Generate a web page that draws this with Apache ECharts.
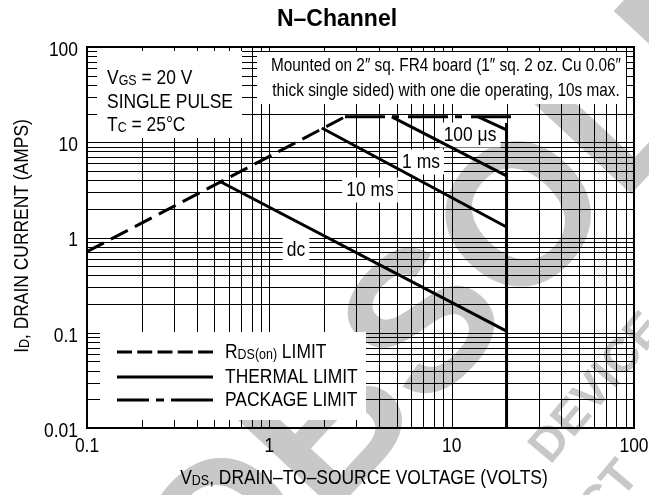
<!DOCTYPE html>
<html>
<head>
<meta charset="utf-8">
<script src="https://cdn.jsdelivr.net/npm/echarts@6/dist/echarts.min.js"></script>
<style>
html, body { margin: 0; padding: 0; background: #fff; }
#chart { width: 649px; height: 495px; }
</style>
</head>
<body>
<div id="chart"></div>
<script>
var SANS = '"Liberation Sans", Arial, sans-serif';
var NARROW_X = 0.83; // squeeze Arial metrics down to a condensed Helvetica look

// axis ticks (log decades) and the 1..9 steps of the log grid
var xTicks = [0.1, 1, 10, 100];
var yTicks = [0.01, 0.1, 1, 10, 100];
var gridSteps = [1, 2, 3, 4, 5, 6, 7, 8, 9];

// safe operating area, [VDS volts, ID amps]
var rdsLimit = [[0.1, 0.71], [2.6, 18.5]];
var packageLimit = [[2.6, 18.5], [21.7, 18.5]];
var dcLimit = [[0.54, 3.85], [20, 0.104]];
var ms10Limit = [[1.94, 14.1], [20, 1.29]];
var ms1Limit = [[4.7, 18.5], [20, 4.43]];
var us100Limit = [[14, 18.5], [20, 13.5]];
var vdsMax = [[20, 0.01], [20, 15.9]];

var chart = echarts.init(document.getElementById('chart'));

var xMin = xTicks[0], xMax = xTicks[xTicks.length - 1];
var yMin = yTicks[0], yMax = yTicks[yTicks.length - 1];

// grid lines as segments [x1, y1, x2, y2]
var gridLines = [];
for (var i = 0; i < xTicks.length - 1; i++) {
  for (var j = 0; j < gridSteps.length; j++) {
    var v = xTicks[i] * gridSteps[j];
    gridLines.push([v, yMin, v, yMax]);
  }
}
for (var i = 0; i < yTicks.length - 1; i++) {
  for (var j = 0; j < gridSteps.length; j++) {
    var v = yTicks[i] * gridSteps[j];
    gridLines.push([xMin, v, xMax, v]);
  }
}

function renderGridLine(params, api) {
  var p1 = api.coord([api.value(0), api.value(1)]);
  var p2 = api.coord([api.value(2), api.value(3)]);
  return {
    type: 'line',
    shape: {
      x1: Math.round(p1[0]) + 0.5, y1: Math.round(p1[1]) + 0.5,
      x2: Math.round(p2[0]) + 0.5, y2: Math.round(p2[1]) + 0.5
    },
    style: { stroke: '#000', lineWidth: 1 }
  };
}

function curve(name, data, dash) {
  return {
    name: name,
    type: 'line',
    data: data,
    symbol: 'none',
    z: 5,
    silent: true,
    animation: false,
    lineStyle: { color: '#000', width: 3, type: dash || 'solid', cap: 'butt' }
  };
}

function fmt(v) { return String(+v.toPrecision(6)); }

var subRich = {
  s: { fontFamily: SANS, fontSize: 15, lineHeight: 14, verticalAlign: 'bottom', color: '#000' }
};

// condensed text
function ctext(x, y, text, align, size, extra) {
  var el = {
    type: 'text', x: x, y: y, z: 6, silent: true, scaleX: NARROW_X,
    style: {
      text: text, fill: '#000',
      font: (size || 21) + 'px ' + SANS,
      align: align || 'left', verticalAlign: 'middle',
      rich: subRich
    }
  };
  if (extra) {
    for (var k in extra) el[k] = extra[k];
  }
  return el;
}

function labelBox(x, y, text) {
  var el = ctext(x, y, text, 'center');
  el.z = 3;
  el.style.backgroundColor = '#fff';
  el.style.padding = [2, 5, 2, 5];
  return el;
}

function watermark(x, y, text, size, deg) {
  return {
    type: 'text', x: x, y: y, rotation: deg * Math.PI / 180, z: -1, silent: true,
    style: { text: text, font: 'bold ' + size + 'px ' + SANS,
      fill: '#c8c8c8', align: 'left', verticalAlign: 'middle' }
  };
}

var graphics = [
  watermark(180, 597, 'OBSOLETE', 200, 47),
  watermark(540, 457, 'DEVICE', 48, 50),
  watermark(478, 650, 'PRODUCT', 48, 50),
  // title
  {
    type: 'text', x: 337, y: 20, z: 6, silent: true,
    style: { text: 'N–Channel', font: 'bold 23px ' + SANS,
      fill: '#000', align: 'center', verticalAlign: 'middle' }
  },
  // axis titles
  ctext(364, 478, 'V{s|DS}, DRAIN–TO–SOURCE VOLTAGE (VOLTS)', 'center'),
  ctext(22, 236, 'I{s|D}, DRAIN CURRENT (AMPS)', 'center', 21, { rotation: Math.PI / 2 }),
  // condition box
  { type: 'rect', shape: { x: 97, y: 51, width: 145, height: 87 }, style: { fill: '#fff' }, z: 3, silent: true },
  ctext(107, 78, 'V{s|GS} = 20 V'),
  ctext(107, 102, 'SINGLE PULSE'),
  ctext(107, 125, 'T{s|C} = 25°C'),
  // mounting note
  { type: 'rect', shape: { x: 257, y: 52, width: 369, height: 52 }, style: { fill: '#fff' }, z: 3, silent: true },
  ctext(446, 66, 'Mounted on 2″ sq. FR4 board (1″ sq. 2 oz. Cu 0.06″', 'center', 18.5),
  ctext(446, 91, 'thick single sided) with one die operating, 10s max.', 'center', 18.5),
  // curve labels
  labelBox(470, 135, '100 μs'),
  labelBox(421, 162, '1 ms'),
  labelBox(370, 190, '10 ms'),
  labelBox(296, 250, 'dc'),
  // legend
  { type: 'rect', shape: { x: 100, y: 332, width: 266, height: 88 }, style: { fill: '#fff' }, z: 3, silent: true },
  { type: 'line', shape: { x1: 117, y1: 352, x2: 213, y2: 352 }, z: 6, silent: true,
    style: { stroke: '#000', lineWidth: 3, lineDash: [15, 5.25] } },
  { type: 'line', shape: { x1: 117, y1: 377, x2: 213, y2: 377 }, z: 6, silent: true,
    style: { stroke: '#000', lineWidth: 3 } },
  { type: 'line', shape: { x1: 117, y1: 400, x2: 213, y2: 400 }, z: 6, silent: true,
    style: { stroke: '#000', lineWidth: 3, lineDash: [32, 7, 8, 7, 42, 10] } },
  ctext(225, 352, 'R{s|DS(on)} LIMIT'),
  ctext(225, 377, 'THERMAL LIMIT'),
  ctext(225, 400, 'PACKAGE LIMIT')
];

var option = {
  backgroundColor: '#fff',
  animation: false,
  grid: {
    left: 87, right: 15, top: 47, bottom: 67,
    show: true, borderColor: '#000', borderWidth: 2
  },
  xAxis: {
    type: 'log', logBase: 10, min: xMin, max: xMax,
    axisLine: { show: false }, axisTick: { show: false }, splitLine: { show: false },
    axisLabel: { show: false }
  },
  yAxis: {
    type: 'log', logBase: 10, min: yMin, max: yMax,
    axisLine: { show: false }, axisTick: { show: false }, splitLine: { show: false },
    axisLabel: { show: false }
  },
  graphic: graphics,
  series: [
    {
      name: 'grid', type: 'custom', data: gridLines, z: 1, silent: true,
      encode: { x: [0, 2], y: [1, 3] },
      renderItem: renderGridLine, animation: false
    },
    curve('RDS(on) LIMIT', rdsLimit, [19, 8]),
    curve('PACKAGE LIMIT', packageLimit, [40, 7, 7, 9]),
    curve('dc', dcLimit),
    curve('10 ms', ms10Limit),
    curve('1 ms', ms1Limit),
    curve('100 μs', us100Limit),
    curve('VDS max', vdsMax)
  ]
};

chart.setOption(option);

// tick labels, placed through the axes' own scales
var tickTexts = [];
xTicks.forEach(function (v) {
  var p = chart.convertToPixel({ xAxisIndex: 0, yAxisIndex: 0 }, [v, yMin]);
  tickTexts.push(ctext(p[0], p[1] + 18, fmt(v), 'center', 21));
});
yTicks.forEach(function (v) {
  var p = chart.convertToPixel({ xAxisIndex: 0, yAxisIndex: 0 }, [xMin, v]);
  tickTexts.push(ctext(p[0] - 9, p[1] + 3, fmt(v), 'right', 21));
});
chart.setOption({ graphic: graphics.concat(tickTexts) });
</script>
</body>
</html>
